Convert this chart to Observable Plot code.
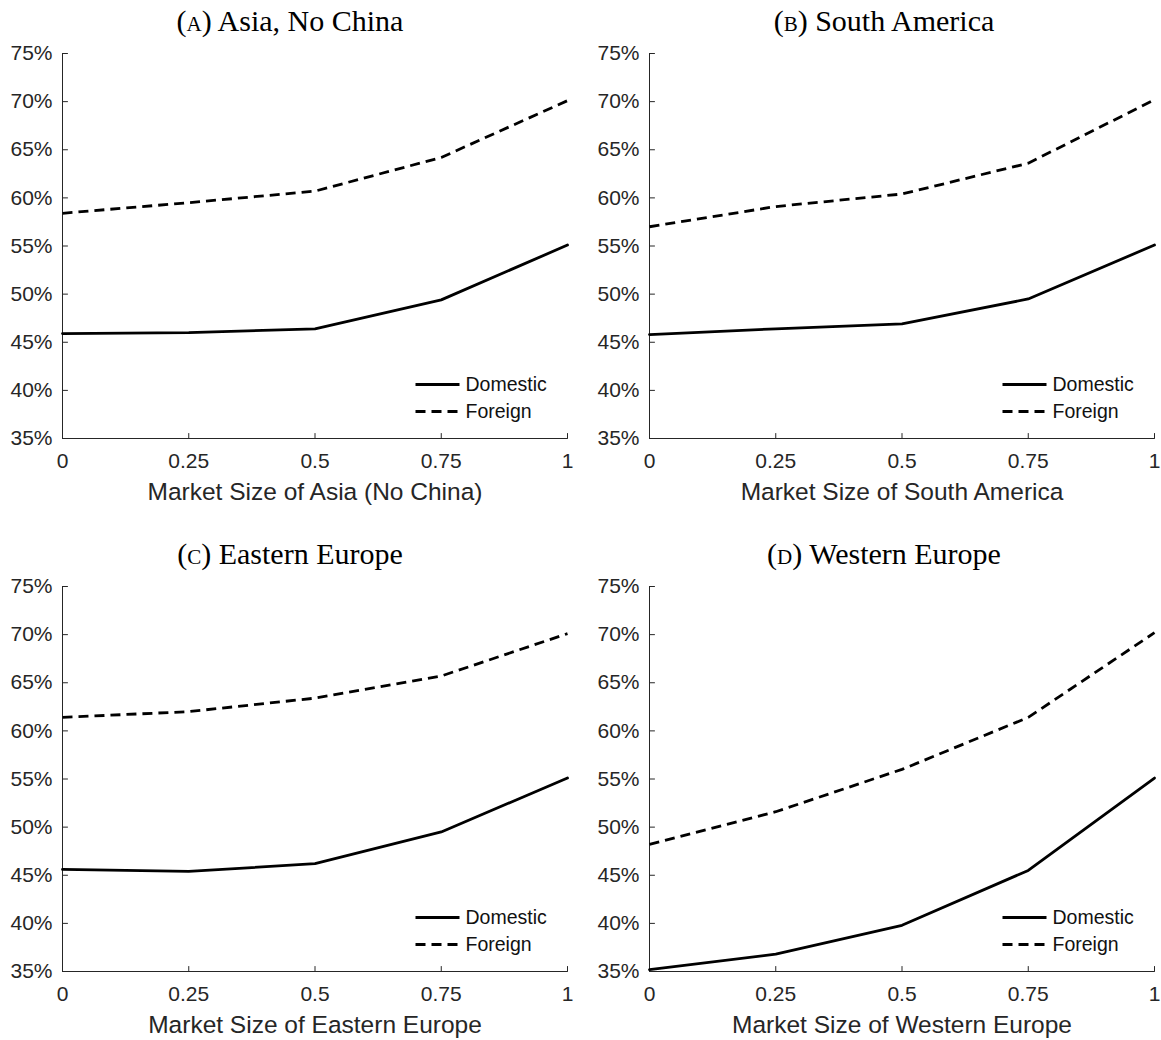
<!DOCTYPE html>
<html><head><meta charset="utf-8">
<script src="https://cdn.jsdelivr.net/npm/d3@7"></script>
<script src="https://cdn.jsdelivr.net/npm/@observablehq/plot@0.6"></script>
<style>
body{margin:0;background:#fff}
#root{position:relative;width:1161px;height:1040px;overflow:hidden;background:#fff}
.panel{position:absolute}
.panel svg{overflow:visible}
.title{position:absolute;font-family:"Liberation Serif","Times New Roman",serif;font-size:30px;color:#000;white-space:nowrap;transform:translate(-50%,-50%)}
.sc{font-variant:small-caps}
</style></head><body><div id="root"></div>
<script>
// ---- data ----
const marketSize = [0, 0.25, 0.5, 0.75, 1];
const xTicks = [0, 0.25, 0.5, 0.75, 1];
const yTicks = [35, 40, 45, 50, 55, 60, 65, 70, 75];
const xDomain = [0, 1];
const yDomain = [35, 75];
const seriesNames = ["Domestic", "Foreign"];

const asiaDomestic = [45.9, 46.0, 46.4, 49.4, 55.1];
const asiaForeign  = [58.4, 59.5, 60.7, 64.2, 70.1];
const southAmericaDomestic = [45.8, 46.4, 46.9, 49.5, 55.1];
const southAmericaForeign  = [57.0, 59.1, 60.4, 63.6, 70.2];
const easternEuropeDomestic = [45.6, 45.4, 46.2, 49.5, 55.1];
const easternEuropeForeign  = [61.4, 62.0, 63.4, 65.7, 70.1];
const westernEuropeDomestic = [35.2, 36.8, 39.8, 45.5, 55.1];
const westernEuropeForeign  = [48.2, 51.6, 56.0, 61.4, 70.2];

const panelLetters = ["a", "b", "c", "d"];
const panelTitles = ["Asia, No China", "South America", "Eastern Europe", "Western Europe"];
const xLabels = ["Market Size of Asia (No China)", "Market Size of South America",
                 "Market Size of Eastern Europe", "Market Size of Western Europe"];
const domesticSeries = [asiaDomestic, southAmericaDomestic, easternEuropeDomestic, westernEuropeDomestic];
const foreignSeries = [asiaForeign, southAmericaForeign, easternEuropeForeign, westernEuropeForeign];

// ---- layout / style ----
const axisColor = "#262626";
const dashes = [null, "10,6"];
const lineW = 2.8;
const lineShape = {draw(context, l) { context.moveTo(0, 0); context.lineTo(0, -l); }};

const root = document.getElementById("root");
const layout = [
  {svgLeft: 0,   width: 580, top: 36,  titleX: 290, titleY: 21},
  {svgLeft: 587, width: 574, top: 36,  titleX: 884, titleY: 21},
  {svgLeft: 0,   width: 580, top: 569, titleX: 290, titleY: 554},
  {svgLeft: 587, width: 574, top: 569, titleX: 884, titleY: 554}
];

panelLetters.forEach((letter, p) => {
  const L = layout[p];
  const rows = [];
  [domesticSeries[p], foreignSeries[p]].forEach((vals, s) => {
    marketSize.forEach((x, i) => rows.push({x, v: vals[i], series: seriesNames[s]}));
  });

  const legendMarks = [];
  seriesNames.forEach((name, s) => {
    legendMarks.push(Plot.vector([name], {
      frameAnchor: "bottom-left", dx: 353, dy: -54 + 27 * s, rotate: 90, length: 44,
      anchor: "start", shape: lineShape, stroke: "black", strokeWidth: lineW,
      strokeDasharray: dashes[s], strokeLinecap: "butt"
    }));
    legendMarks.push(Plot.text([name], {
      frameAnchor: "bottom-left", dx: 403, dy: -54 + 27 * s, text: d => d,
      textAnchor: "start", lineAnchor: "middle", fontSize: 19.5, fill: "#111"
    }));
  });

  const chart = Plot.plot({
    width: L.width, height: 471,
    marginLeft: 62, marginRight: L.width - 62 - 505, marginTop: 17, marginBottom: 69,
    x: {domain: xDomain, label: null},
    y: {domain: yDomain, label: null},
    style: {fontFamily: "'Liberation Sans', Arial, sans-serif", color: axisColor, background: "white"},
    marks: [
      Plot.axisX(xTicks, {tickSize: 0, tickPadding: 15, fontSize: 21, tickFormat: d => String(d), label: null}),
      Plot.axisY(yTicks, {tickSize: 0, tickPadding: 10, fontSize: 21, tickFormat: d => d + "%", label: null}),
      Plot.ruleX([xDomain[0]], {stroke: axisColor, strokeWidth: 1}),
      Plot.ruleY([yDomain[0]], {stroke: axisColor, strokeWidth: 1}),
      Plot.vector(yTicks, {y: d => d, frameAnchor: "left", rotate: 90, length: 5, anchor: "start",
        shape: lineShape, stroke: axisColor, strokeWidth: 1}),
      Plot.vector(xTicks, {x: d => d, frameAnchor: "bottom", rotate: 0, length: 5, anchor: "start",
        shape: lineShape, stroke: axisColor, strokeWidth: 1}),
      Plot.line(rows.filter(r => r.series === "Domestic"), {x: "x", y: "v", stroke: "black", strokeWidth: lineW}),
      Plot.line(rows.filter(r => r.series === "Foreign"), {x: "x", y: "v", stroke: "black", strokeWidth: lineW,
        strokeDasharray: dashes[1], strokeLinecap: "butt"}),
      ...legendMarks,
      Plot.text([xLabels[p]], {frameAnchor: "bottom", dy: 54, text: d => d, fontSize: 24.5,
        lineAnchor: "middle", fill: axisColor})
    ]
  });

  const div = document.createElement("div");
  div.className = "panel";
  div.style.left = L.svgLeft + "px";
  div.style.top = L.top + "px";
  div.appendChild(chart);
  root.appendChild(div);

  const t = document.createElement("div");
  t.className = "title";
  t.style.left = L.titleX + "px";
  t.style.top = L.titleY + "px";
  t.innerHTML = '(<span class="sc">' + letter + '</span>) ' + panelTitles[p];
  root.appendChild(t);
});
</script>
</body></html>
